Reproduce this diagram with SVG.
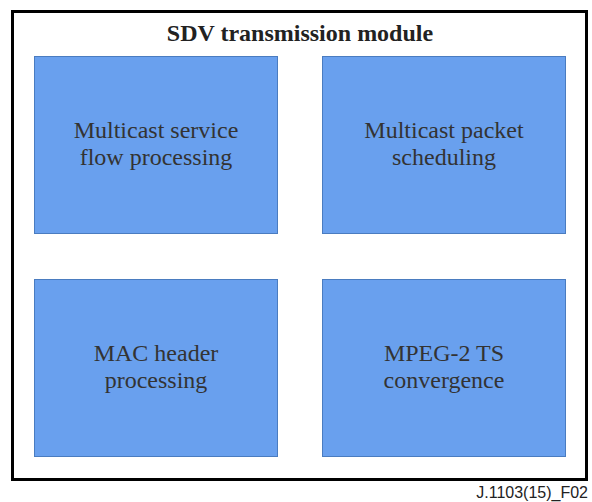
<svg xmlns="http://www.w3.org/2000/svg" width="592" height="502" viewBox="0 0 592 502">
<style>
.box{fill:#69a0ee;stroke:#4a7cc0;stroke-width:1}
.lbl{font-family:"Liberation Serif","Times New Roman",serif;font-size:24px;fill:#333;text-anchor:middle}
.title{font-family:"Liberation Serif","Times New Roman",serif;font-size:24px;font-weight:bold;fill:#222;text-anchor:middle}
.foot{font-family:"Liberation Sans",Arial,sans-serif;font-size:16px;fill:#222;text-anchor:end}
</style>
<rect width="592" height="502" fill="#fff"/>
<g id="module">
<rect x="12.5" y="11.5" width="574" height="468" fill="none" stroke="#000" stroke-width="3"/>
<text class="title" x="300" y="41">SDV transmission module</text>
</g>
<g id="n1"><rect class="box" x="34.5" y="56.5" width="243" height="177"/>
<text class="lbl" x="156" y="138">Multicast service</text><text class="lbl" x="156" y="165">flow processing</text></g>
<g id="n2"><rect class="box" x="322.5" y="56.5" width="243" height="177"/>
<text class="lbl" x="444" y="138">Multicast packet</text><text class="lbl" x="444" y="165">scheduling</text></g>
<g id="n3"><rect class="box" x="34.5" y="279.5" width="243" height="177"/>
<text class="lbl" x="156" y="361">MAC header</text><text class="lbl" x="156" y="388">processing</text></g>
<g id="n4"><rect class="box" x="322.5" y="279.5" width="243" height="177"/>
<text class="lbl" x="444" y="361">MPEG-2 TS</text><text class="lbl" x="444" y="388">convergence</text></g>
<g id="connectors"></g>
<text class="foot" x="588" y="498">J.1103(15)_F02</text>
</svg>
